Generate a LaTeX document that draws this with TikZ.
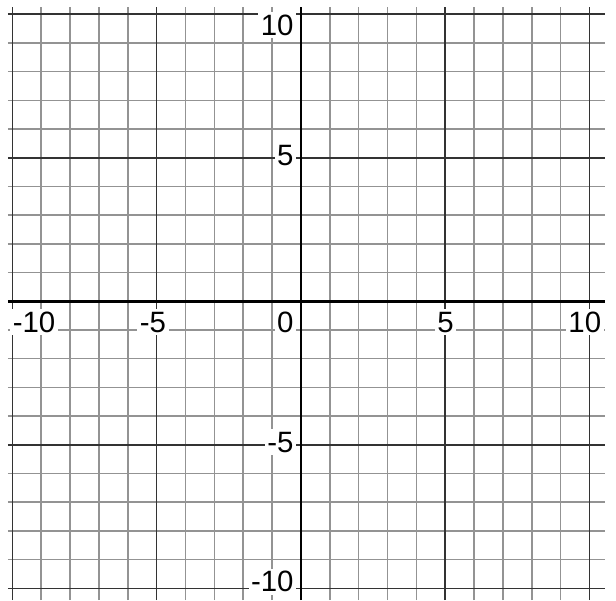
\documentclass[tikz,border=0pt]{standalone}
\usepackage{fontspec}
\setmainfont{Liberation Sans}
\begin{document}
\begin{tikzpicture}[x=1cm,y=0.995cm,
  minorline/.style={gray!85, line width=1.5pt},
  majorline/.style={black!80, line width=1.5pt},
  axisline/.style={black, line width=2.6pt},
  ticklabel/.style={fill=white, inner sep=2.5pt, font=\fontsize{29}{31}\selectfont}]

\useasboundingbox (-10.43,-10.41) rectangle (10.92,10.495);

% minor grid
\foreach \k in {-9,-8,-7,-6,-4,-3,-2,-1,1,2,3,4,6,7,8,9} {
  \draw[minorline] (\k,-10.41) -- (\k,10.25);
  \draw[minorline] (-10.16,\k) -- (10.54,\k);
}
% major grid
\foreach \k in {-10,-5,5,10} {
  \draw[majorline] (\k,-10.41) -- (\k,10.25);
  \draw[majorline] (-10.16,\k) -- (10.54,\k);
}
% axes
\draw[axisline] (-10.16,0) -- (10.54,0); %x
\draw[axisline] (0,-10.41) -- (0,10.25); %y

% x labels
\node[ticklabel, anchor=base] (xm10) at (-9.25,-1.073) {-10};
\node[ticklabel, anchor=base] (xm5) at (-5.13,-1.073) {-5};
\node[ticklabel, anchor=base] (xzero) at (-0.54,-1.073) {0};
\node[ticklabel, anchor=base] (xp5) at (5.01,-1.073) {5};
\node[ticklabel, anchor=base] (xp10) at (9.84,-1.073) {10};

% y labels
\node[ticklabel, anchor=base east] (yp10) at (-0.16,9.275) {10};
\node[ticklabel, anchor=base east] (yp5) at (-0.16,4.746) {5};
\node[ticklabel, anchor=base east] (ym5) at (-0.16,-5.25) {-5};
\node[ticklabel, anchor=base east] (ym10) at (-0.16,-10.12) {-10};
\end{tikzpicture}
\end{document}
